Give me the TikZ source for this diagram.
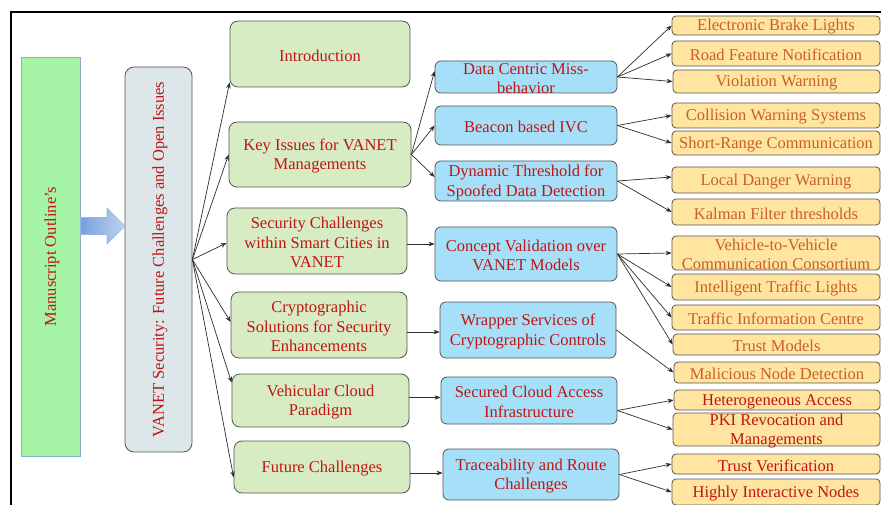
\documentclass[tikz,border=0pt]{standalone}
\usepackage{fontspec}
\setmainfont{Liberation Serif}
\usetikzlibrary{arrows.meta}

\definecolor{txtred}{RGB}{192,20,20}
\definecolor{txtorange}{RGB}{200,96,40}
\definecolor{outlinefill}{RGB}{166,245,166}
\definecolor{outlineedge}{RGB}{140,172,205}
\definecolor{greyfill}{RGB}{221,231,233}
\definecolor{greenfill}{RGB}{216,236,196}
\definecolor{bluefill}{RGB}{166,224,248}
\definecolor{yellowfill}{RGB}{255,229,160}
\definecolor{edge}{RGB}{85,85,85}
\definecolor{arrowdark}{RGB}{120,160,220}
\definecolor{arrowlight}{RGB}{190,210,238}
\definecolor{arrowedge}{RGB}{150,182,228}

\tikzset{
  basebox/.style={draw=edge, line width=0.8pt, inner sep=0pt},
  gbox/.style={basebox, fill=greenfill, rounded corners=8pt},
  bbox/.style={basebox, fill=bluefill, rounded corners=6pt},
  ybox/.style={basebox, fill=yellowfill, rounded corners=4pt},
  redtxt/.style={align=center, inner sep=0pt, text=txtred, yshift=-1.5pt,
    font=\fontsize{16.5}{19.5}\selectfont},
  orangetxt/.style={redtxt, text=txtorange},
  conn/.style={draw={rgb,255:red,45;green,45;blue,45}, line width=0.7pt,
    -{Stealth[length=6pt,width=4.5pt]}}
}

% box: name, box style, text style, x1, y1, x2, y2, text
\newcommand\bx[8]{%
  \node[#2, minimum width={(#6-#4)*1pt}, minimum height={(#7-#5)*1pt},
    label={[#3]center:{#8}}] (#1) at ({(#4+#6)/2},{(#5+#7)/2}) {};}

\begin{document}
\begin{tikzpicture}[x=1pt,y=-1pt]
\useasboundingbox (0,0) rectangle (881,505);
\clip (0,0) rectangle (881,505);
\fill[white] (0,0) rectangle (881,505);

% outer frame
\draw[line width=2.6pt] (11,530) -- (11,12) -- (900,12);

% left column
\node[draw=outlineedge, line width=0.8pt, fill=outlinefill, inner sep=0pt,
  minimum width=59pt, minimum height=399pt,
  label={[redtxt, yshift=1.5pt, xshift=1.5pt, rotate=90]center:{Manuscript Outline’s}}] (outline) at (50.5,256.5) {};
\node[draw=edge, line width=0.8pt, fill=greyfill, rounded corners=9pt, inner sep=0pt,
  minimum width=67pt, minimum height=385pt,
  label={[redtxt, yshift=1.5pt, xshift=1.5pt, rotate=90]center:{VANET Security: Future Challenges and Open Issues}}] (vanet) at (158.5,259.5) {};

% block arrow between the two left boxes
\path[draw=arrowedge, line width=0.7pt, left color=arrowdark, right color=arrowlight]
  (80.5,217.5) -- (107,217.5) -- (107,208) -- (125,226) -- (107,244) -- (107,234.5) -- (80.5,234.5) -- cycle;

% second column
\bx{intro}{gbox}{redtxt}{230}{21}{410}{87}{Introduction}
\bx{key}{gbox}{redtxt}{229}{122}{411}{187}{Key Issues for VANET\\Managements}
\bx{sec}{gbox}{redtxt}{227}{208}{407}{274}{Security Challenges\\within Smart Cities in\\VANET}
\bx{cry}{gbox}{redtxt}{231}{292}{407}{358}{Cryptographic\\Solutions for Security\\Enhancements}
\bx{veh}{gbox}{redtxt}{232}{374}{409}{427}{Vehicular Cloud\\Paradigm}
\bx{fut}{gbox}{redtxt}{234}{441}{410}{493}{Future Challenges}

% third column
\bx{dc}{bbox}{redtxt}{435}{61}{617}{93}{Data Centric Miss-\\behavior}
\bx{bb}{bbox}{redtxt}{435}{106}{617}{145}{Beacon based IVC}
\bx{dt}{bbox}{redtxt}{435}{161}{617}{201}{Dynamic Threshold for\\Spoofed Data Detection}
\bx{cv}{bbox}{redtxt}{435}{227}{617}{281}{Concept Validation over\\VANET Models}
\bx{wr}{bbox}{redtxt}{440}{302}{616}{358}{Wrapper Services of\\Cryptographic Controls}
\bx{sc}{bbox}{redtxt}{441}{377}{617}{424}{Secured Cloud Access\\Infrastructure}
\bx{tr}{bbox}{redtxt}{443}{449}{619}{500}{Traceability and Route\\Challenges}

% fourth column
\bx{ya}{ybox}{orangetxt}{672}{16}{880}{35}{Electronic Brake Lights}
\bx{yb}{ybox}{orangetxt}{672}{41}{880}{66}{Road Feature Notification}
\bx{yc}{ybox}{orangetxt}{673}{70}{880}{93}{Violation Warning}
\bx{yd}{ybox}{orangetxt}{672}{103}{880}{128}{Collision Warning Systems}
\bx{ye}{ybox}{orangetxt}{672}{131}{880}{155}{Short-Range Communication}
\bx{yf}{ybox}{orangetxt}{672}{167}{880}{193}{Local Danger Warning}
\bx{yg}{ybox}{orangetxt}{672}{199}{880}{225}{Kalman Filter thresholds}
\bx{yh}{ybox}{orangetxt}{672}{236}{880}{270}{Vehicle-to-Vehicle\\Communication Consortium}
\bx{yi}{ybox}{orangetxt}{672}{274}{880}{300}{Intelligent Traffic Lights}
\bx{yj}{ybox}{orangetxt}{672}{305}{880}{330}{Traffic Information Centre}
\bx{yk}{ybox}{orangetxt}{673}{334}{880}{355}{Trust Models}
\bx{yl}{ybox}{orangetxt}{674}{362}{880}{383}{Malicious Node Detection}
\bx{ym}{ybox}{redtxt}{674}{390}{880}{410}{Heterogeneous Access}
\bx{yn}{ybox}{redtxt}{673}{413}{880}{446}{PKI Revocation and\\Managements}
\bx{yo}{ybox}{redtxt}{672}{454}{880}{474}{Trust Verification}
\bx{yp}{ybox}{redtxt}{672}{479}{880}{505}{Highly Interactive Nodes}

% connectors: main topic to sections
\draw[conn] (vanet.east) -- ([yshift=5pt]intro.south west);
\draw[conn] (vanet.east) -- (key.west);
\draw[conn] (vanet.east) -- ([yshift=-2pt]sec.west);
\draw[conn] (vanet.east) -- ([yshift=3pt]cry.west);
\draw[conn] (vanet.east) -- ([yshift=-9pt]veh.north west);
\draw[conn] (vanet.east) -- ([yshift=16pt]fut.south west);

% sections to sub-topics
\draw[conn] (key.east) -- ([yshift=6pt]dc.west);
\draw[conn] (key.east) -- (bb.west);
\draw[conn] (key.east) -- ([yshift=4pt]dt.west);
\draw[conn] ([yshift=-3pt]sec.east) -- ([yshift=10pt]cv.west);
\draw[conn] ([yshift=-7pt]cry.east) -- ([yshift=-2pt]wr.west);
\draw[conn] ([yshift=3pt]veh.east) -- ([yshift=3pt]sc.west);
\draw[conn] ([yshift=-6pt]fut.east) -- ([yshift=1.5pt]tr.west);

% sub-topics to details
\draw[conn] (dc.east) -- (ya.west);
\draw[conn] (dc.east) -- (yb.west);
\draw[conn] (dc.east) -- (yc.west);
\draw[conn] (bb.east) -- (yd.west);
\draw[conn] (bb.east) -- (ye.west);
\draw[conn] (dt.east) -- ([yshift=3pt]yf.west);
\draw[conn] (dt.east) -- (yg.west);
\draw[conn] (cv.east) -- (yh.west);
\draw[conn] (cv.east) -- (yi.west);
\draw[conn] (cv.east) -- (yj.west);
\draw[conn] (cv.east) -- (yk.west);
\draw[conn] (wr.east) -- (yl.west);
\draw[conn] ([yshift=-10pt]sc.east) -- (ym.west);
\draw[conn] ([yshift=-10pt]sc.east) -- (yn.west);
\draw[conn] (tr.east) -- (yo.west);
\draw[conn] (tr.east) -- (yp.west);
\end{tikzpicture}
\end{document}
